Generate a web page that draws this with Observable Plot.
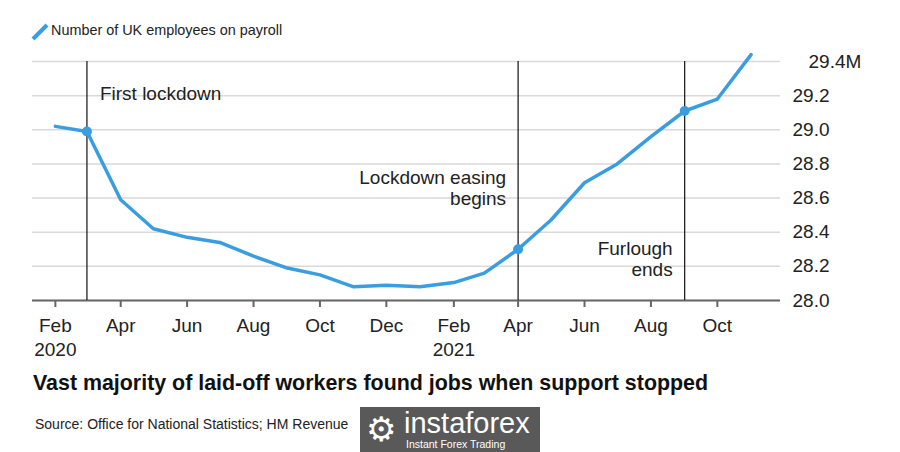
<!DOCTYPE html>
<html>
<head>
<meta charset="utf-8">
<script src="https://cdn.jsdelivr.net/npm/d3@7"></script>
<script src="https://cdn.jsdelivr.net/npm/@observablehq/plot@0.6"></script>
<style>
  html, body { margin: 0; padding: 0; background: #fff; width: 900px; height: 452px; overflow: hidden; font-family: "Liberation Sans", Arial, sans-serif; }
  #legend { height: 46px; position: relative; }
  #legend svg { position: absolute; left: 30px; top: 22px; }
  #legend span { position: absolute; left: 51px; top: 22px; font-size: 14.4px; color: #222; }
  #chart { height: 316px; }
  #title { position: absolute; left: 33px; top: 371px; font-size: 21.4px; font-weight: bold; color: #111; white-space: nowrap; }
  #source { position: absolute; left: 35px; top: 416px; font-size: 14px; color: #222; white-space: nowrap; }
  #wm { position: absolute; left: 360px; top: 407px; width: 180px; height: 45px; background: #595959; color: #fff; }
  #wm .g { position: absolute; left: 6px; top: 4px; font-size: 34px; line-height: 36px; }
  #wm .b { position: absolute; left: 44px; top: 2px; font-size: 29px; line-height: 29px; }
  #wm .s { position: absolute; left: 46px; top: 32px; font-size: 10.5px; line-height: 11px; }
</style>
</head>
<body>
<div id="legend">
  <svg width="20" height="20"><line x1="3" y1="17" x2="17" y2="3" stroke="#3a9de0" stroke-width="4"/></svg>
  <span>Number of UK employees on payroll</span>
</div>
<div id="chart"></div>
<div id="title">Vast majority of laid-off workers found jobs when support stopped</div>
<div id="source">Source: Office for National Statistics; HM Revenue</div>
<div id="wm"><span class="g">⚙</span><span class="b">instaforex</span><span class="s">Instant Forex Trading</span></div>
<script>
// ---- data ----
const months = ["2020-02","2020-03","2020-04","2020-05","2020-06","2020-07","2020-08","2020-09","2020-10","2020-11","2020-12",
                "2021-01","2021-02","2021-03","2021-04","2021-05","2021-06","2021-07","2021-08","2021-09","2021-10","2021-11"];
const employees = [29.02,28.99,28.59,28.42,28.37,28.34,28.26,28.19,28.15,28.08,28.09,
                   28.08,28.105,28.16,28.30,28.47,28.69,28.80,28.96,29.11,29.18,29.44];
const eventMonths = ["2020-03","2021-04","2021-09"];
const eventLabels = ["First lockdown","Lockdown easing\nbegins","Furlough\nends"];
const eventLabelY = [29.21, 28.66, 28.243];
const xTickMonths = ["2020-02","2020-04","2020-06","2020-08","2020-10","2020-12","2021-02","2021-04","2021-06","2021-08","2021-10"];
const xTickLabels = ["Feb\n2020","Apr","Jun","Aug","Oct","Dec","Feb\n2021","Apr","Jun","Aug","Oct"];
const yTicks = [28.0, 28.2, 28.4, 28.6, 28.8, 29.0, 29.2];
const yTopTick = [29.4];

const parse = d3.utcParse("%Y-%m");
const series = months.map((m, i) => ({date: parse(m), value: employees[i]}));
const events = eventMonths.map((m, i) => ({date: parse(m), label: eventLabels[i], ly: eventLabelY[i],
  value: employees[months.indexOf(m)]}));
const blue = "#3a9de0";

const chart = Plot.plot({
  width: 900,
  height: 316,
  marginTop: 15,
  marginBottom: 62,
  marginLeft: 32,
  marginRight: 120,
  style: {fontFamily: "'Liberation Sans', Arial, sans-serif", fontSize: "19px", color: "#222", background: "transparent"},
  x: {type: "utc", domain: [new Date(Date.UTC(2020,0,11)), new Date(Date.UTC(2021,10,28))]},
  y: {domain: [28.0, 29.4]},
  marks: [
    Plot.gridY(yTicks.concat(yTopTick), {stroke: "#d9d9d9", strokeOpacity: 1, strokeWidth: 1.5}),
    Plot.ruleY([28.0], {stroke: "#666", strokeWidth: 2}),
    Plot.axisX({ticks: xTickMonths.map(parse), tickFormat: (d, i) => xTickLabels[i], tickSize: 7, tickPadding: 8,
      stroke: "#666", strokeWidth: 2, fontSize: 19, lineHeight: 1.25, fill: "#222"}),
    Plot.axisY({ticks: yTicks, anchor: "right", tickSize: 0, tickPadding: 12, tickFormat: d3.format(".1f"), fontSize: 19, fill: "#222"}),
    Plot.axisY({ticks: yTopTick, anchor: "right", tickSize: 0, tickPadding: 28, tickFormat: d => d3.format(".1f")(d) + "M", fontSize: 19, fill: "#222"}),
    Plot.ruleX(events, {x: "date", y1: 28.0, y2: 29.4, stroke: "#111", strokeWidth: 1.2}),
    Plot.text(events.slice(0,1), {x: "date", y: "ly", text: "label", textAnchor: "start", dx: 13, fontSize: 19, fill: "#222"}),
    Plot.text(events.slice(1), {x: "date", y: "ly", text: "label", textAnchor: "end", dx: -12, fontSize: 19, lineHeight: 1.1, fill: "#222"}),
    Plot.line(series, {x: "date", y: "value", stroke: blue, strokeWidth: 3.5}),
    Plot.dot(events, {x: "date", y: "value", r: 5, fill: blue})
  ]
});
document.getElementById("chart").appendChild(chart);
</script>
</body>
</html>
